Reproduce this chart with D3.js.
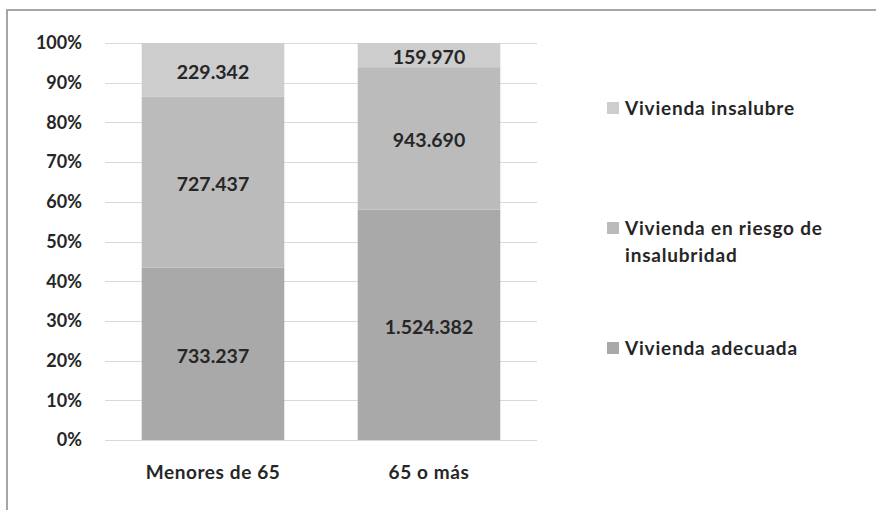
<!DOCTYPE html>
<html>
<head>
<meta charset="utf-8">
<script src="https://cdn.jsdelivr.net/npm/d3@7"></script>
<style>
  body { margin: 0; background: #fff; }
  svg text { font-family: Lato, "Open Sans", sans-serif; font-weight: bold; fill: #262626; }
</style>
</head>
<body>
<div id="chart"></div>
<script>
const width = 876;
const height = 510;

const grupos = ["Menores de 65", "65 o más"];
const series = ["Vivienda adecuada", "Vivienda en riesgo de insalubridad", "Vivienda insalubre"];
const adecuada = [733237, 1524382];
const riesgo = [727437, 943690];
const insalubre = [229342, 159970];
const ticks = [0, 0.1, 0.2, 0.3, 0.4, 0.5, 0.6, 0.7, 0.8, 0.9, 1];

const colores = {
  "Vivienda adecuada": "#a9a9a9",
  "Vivienda en riesgo de insalubridad": "#bbbbbb",
  "Vivienda insalubre": "#cdcdcd",
};

const valores = {
  "Vivienda adecuada": adecuada,
  "Vivienda en riesgo de insalubridad": riesgo,
  "Vivienda insalubre": insalubre,
};

const filas = grupos.map((g, i) => {
  const fila = { grupo: g };
  let total = 0;
  series.forEach((s) => (total += valores[s][i]));
  series.forEach((s) => (fila[s] = valores[s][i] / total));
  fila.abs = {};
  series.forEach((s) => (fila.abs[s] = valores[s][i]));
  return fila;
});

const svg = d3
  .select("#chart")
  .append("svg")
  .attr("width", width)
  .attr("height", height);

// marco del grafico
svg
  .append("path")
  .attr("d", "M7,510 L7,10 L876,10")
  .attr("fill", "none")
  .attr("stroke", "#a6a6a6")
  .attr("stroke-width", 2);

const x = d3.scaleBand().domain(grupos).range([105, 537]).paddingInner(0.34).paddingOuter(0.17);
const y = d3.scaleLinear().domain([0, 1]).range([440, 43]);

// lineas de division
svg
  .append("g")
  .selectAll("line")
  .data(ticks)
  .join("line")
  .attr("x1", 105)
  .attr("x2", 537)
  .attr("y1", (d) => Math.round(y(d)) + 0.5)
  .attr("y2", (d) => Math.round(y(d)) + 0.5)
  .attr("stroke", "#d9d9d9")
  .attr("stroke-width", 1);

// eje y
svg
  .append("g")
  .selectAll("text")
  .data(ticks)
  .join("text")
  .attr("x", 82)
  .attr("y", (d) => y(d))
  .attr("dy", "0.35em")
  .attr("text-anchor", "end")
  .attr("font-size", 18)
  .text((d) => d3.format(".0%")(d));

const stack = d3.stack().keys(series)(filas);

const capas = svg
  .append("g")
  .selectAll("g")
  .data(stack)
  .join("g")
  .attr("fill", (d) => colores[d.key]);

capas
  .selectAll("rect")
  .data((d) => d)
  .join("rect")
  .attr("x", (d) => x(d.data.grupo))
  .attr("width", x.bandwidth())
  .attr("y", (d) => y(d[1]))
  .attr("height", (d) => y(d[0]) - y(d[1]));

const fmt = (v) => d3.format(",")(v).replace(/,/g, ".");

stack.forEach((capa) => {
  svg
    .append("g")
    .selectAll("text")
    .data(capa)
    .join("text")
    .attr("x", (d) => x(d.data.grupo) + x.bandwidth() / 2)
    .attr("y", (d) => (y(d[0]) + y(d[1])) / 2 + 2)
    .attr("dy", "0.35em")
    .attr("text-anchor", "middle")
    .attr("font-size", 19.5)
    .text((d) => fmt(d.data.abs[capa.key]));
});

// eje x
svg
  .append("g")
  .selectAll("text")
  .data(grupos)
  .join("text")
  .attr("x", (d) => x(d) + x.bandwidth() / 2)
  .attr("y", 472)
  .attr("dy", "0.35em")
  .attr("text-anchor", "middle")
  .attr("font-size", 19)
  .attr("letter-spacing", 0.6)
  .text((d) => d);

// leyenda
const leyenda = [
  { key: "Vivienda insalubre", lineas: ["Vivienda insalubre"], y: 108 },
  { key: "Vivienda en riesgo de insalubridad", lineas: ["Vivienda en riesgo de", "insalubridad"], y: 228 },
  { key: "Vivienda adecuada", lineas: ["Vivienda adecuada"], y: 348 },
];

const items = svg
  .append("g")
  .selectAll("g")
  .data(leyenda)
  .join("g")
  .attr("transform", (d) => `translate(607,${d.y})`);

items
  .append("rect")
  .attr("x", 0)
  .attr("y", -6)
  .attr("width", 12)
  .attr("height", 12)
  .attr("fill", (d) => colores[d.key]);

items
  .append("text")
  .attr("font-size", 19)
  .attr("letter-spacing", 0.8)
  .selectAll("tspan")
  .data((d) => d.lineas)
  .join("tspan")
  .attr("x", 18)
  .attr("y", (d, i) => i * 27)
  .attr("dy", "0.35em")
  .text((d) => d);
</script>
</body>
</html>
